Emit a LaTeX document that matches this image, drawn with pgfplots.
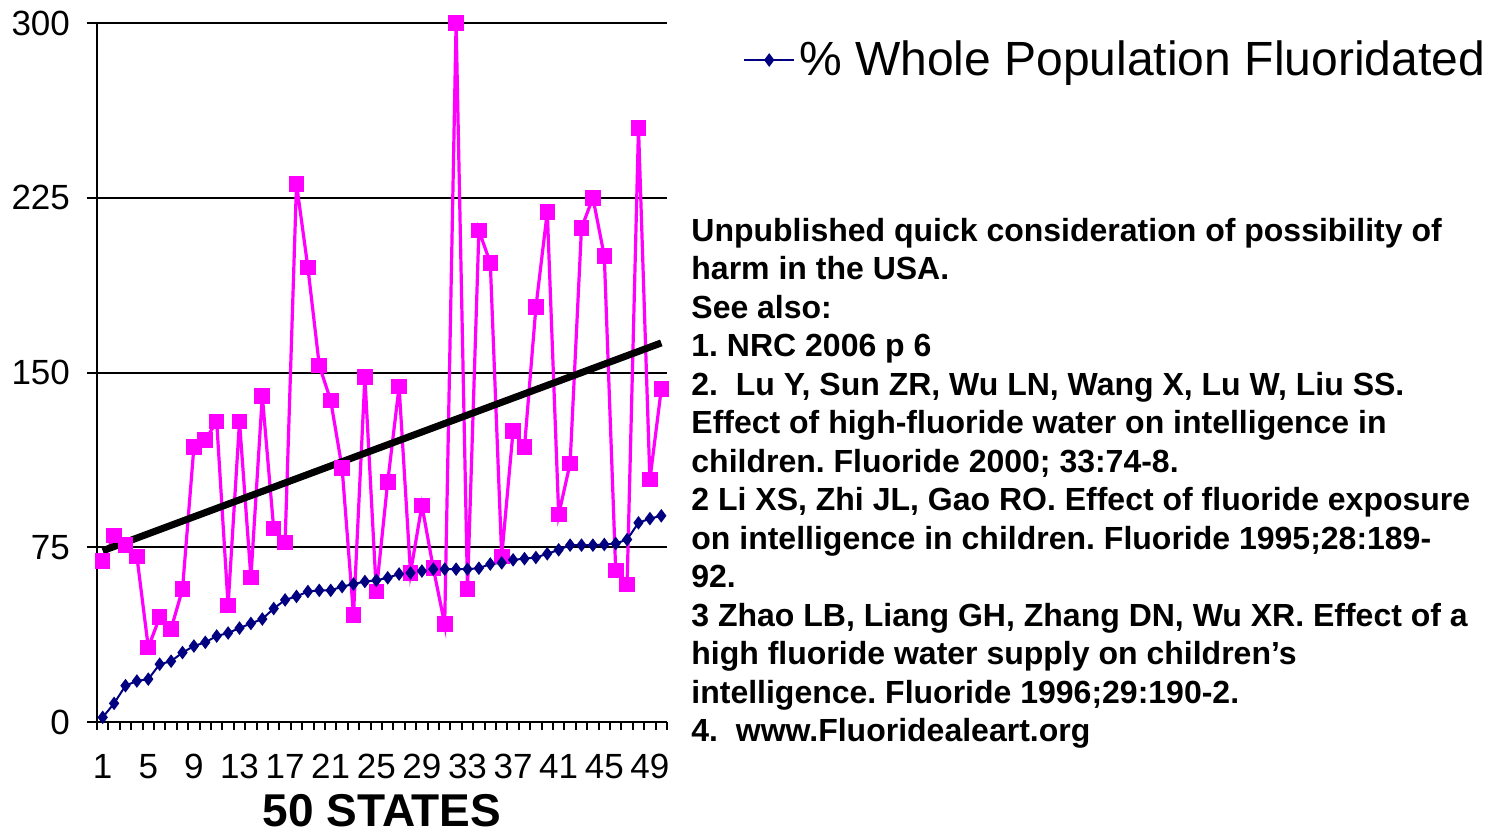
\documentclass[border=0pt]{standalone}
\usepackage{fontspec}
\setmainfont{Liberation Sans}
\usepackage{pgfplots}
\pgfplotsset{compat=1.18}
\definecolor{pinkc}{RGB}{255,0,255}
\definecolor{navyc}{RGB}{0,0,128}
\frenchspacing
\begin{document}
\begin{tikzpicture}
\begin{axis}[
  scale only axis,
  width=285pt, height=349.5pt,
  xmin=0.5, xmax=50.5,
  ymin=0, ymax=300,
  axis x line*=bottom, axis y line*=left,
  axis line style={black, line width=1.2pt},
  xtick={1,5,...,49},
  minor xtick={0.5,1.5,...,50.5},
  ytick={0,75,150,225,300},
  tick align=outside,
  major tick length=5pt,
  minor tick length=4pt,
  major x tick style={draw=none},
  minor x tick style={black, line width=1pt},
  major y tick style={black, line width=1pt},
  ymajorgrids,
  major grid style={black, line width=1pt},
  /pgf/number format/assume math mode=true,
  tick label style={font=\fontsize{17.5}{21}\selectfont},
  xticklabel style={yshift=-7.5pt},
  yticklabel style={xshift=-5pt},
  xlabel={\bfseries 50 STATES},
  xlabel style={font=\fontsize{23}{27}\selectfont, inner sep=0pt, yshift=-4pt},
  clip=false,
  legend style={draw=none, fill=none, at={(1.133,0.947)}, anchor=west,
    inner sep=0pt, font=\fontsize{24}{28}\selectfont},
  legend image code/.code={
    \draw[#1, mark repeat=2, mark phase=2] plot coordinates {(0pt,0pt) (12.5pt,0pt) (25pt,0pt)};
  },
]
\addplot[pinkc, line width=1.6pt, mark=square*, mark size=3.1pt, mark options={solid}, forget plot] coordinates {
(1,69) (2,80) (3,76) (4,71) (5,32) (6,45) (7,40) (8,57) (9,118) (10,121)
(11,129) (12,50) (13,129) (14,62) (15,140) (16,83) (17,77) (18,231) (19,195) (20,153)
(21,138) (22,109) (23,46) (24,148) (25,56) (26,103) (27,144) (28,64) (29,93) (30,66)
(31,42) (32,300) (33,57) (34,211) (35,197) (36,71) (37,125) (38,118) (39,178) (40,219)
(41,89) (42,111) (43,212) (44,225) (45,200) (46,65) (47,59) (48,255) (49,104) (50,143)
};
\addplot[black, line width=3.5pt, forget plot] coordinates {(1,73.5) (50,162.7)};
\addplot[navyc, line width=1pt, mark=diamond*, mark size=2.6pt] coordinates {
(1,2) (2,8) (3,15.6) (4,17.6) (5,18.4) (6,24.8) (7,26.1) (8,29.8) (9,32.6) (10,34.2)
(11,36.9) (12,38.2) (13,40.3) (14,42.3) (15,44.2) (16,48.7) (17,52.4) (18,53.9) (19,56) (20,56.5)
(21,56.5) (22,58.1) (23,59.2) (24,60.3) (25,60.8) (26,61.9) (27,63.5) (28,64) (29,64.8) (30,65.6)
(31,65.6) (32,65.6) (33,65.6) (34,66) (35,67.8) (36,68.3) (37,69.6) (38,70.1) (39,70.6) (40,72.2)
(41,73.9) (42,75.9) (43,75.9) (44,75.9) (45,76.2) (46,76.6) (47,78.3) (48,85.5) (49,87.3) (50,88.5)
};
\addlegendentry{\% Whole Population Fluoridated}
\end{axis}
\begin{scope}[every node/.style={anchor=base west, inner sep=0pt, font=\fontsize{16}{19.25}\selectfont\bfseries}]
\node at (297pt,240.5pt) {Unpublished quick consideration of possibility of};
\node at (297pt,221.25pt) {harm in the USA.};
\node at (297pt,202pt) {See also:};
\node at (297pt,182.75pt) {1. NRC 2006 p 6};
\node at (297pt,163.5pt) {2.\ \ Lu Y, Sun ZR, Wu LN, Wang X, Lu W, Liu SS.};
\node at (297pt,144.25pt) {Effect of high-fluoride water on intelligence in};
\node at (297pt,125pt) {children. Fluoride 2000; 33:74-8.};
\node at (297pt,105.75pt) {2 Li XS, Zhi JL, Gao RO. Effect of fluoride exposure};
\node at (297pt,86.5pt) {on intelligence in children. Fluoride 1995;28:189-};
\node at (297pt,67.25pt) {92.};
\node at (297pt,48pt) {3 Zhao LB, Liang GH, Zhang DN, Wu XR. Effect of a};
\node at (297pt,28.75pt) {high fluoride water supply on children’s};
\node at (297pt,9.5pt) {intelligence. Fluoride 1996;29:190-2.};
\node at (297pt,-9.75pt) {4.\ \ www.Fluoridealeart.org};
\end{scope}
\pgfresetboundingbox
\path[use as bounding box] (-48.5pt,-57.5pt) rectangle (694.5pt,361pt);
\end{tikzpicture}
\end{document}
